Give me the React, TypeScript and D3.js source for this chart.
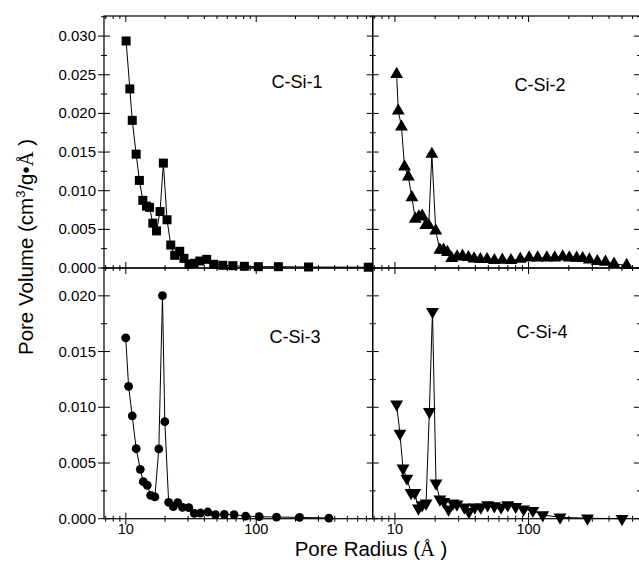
import React from "react";
import * as d3 from "d3";

// C-Si-1 (squares)
const si1Radius = [10.05, 10.73, 11.2, 12.0, 12.7, 13.5, 14.4, 15.2, 16.1, 17.2, 18.3, 19.4, 20.7, 22.1, 23.7, 25.9, 27.9, 30.5, 33.3, 36.9, 41.7, 47.2, 55.4, 66.2, 81.1, 103.8, 147.9, 252, 723];
const si1Volume = [0.02937, 0.02317, 0.0191, 0.01473, 0.01133, 0.00875, 0.008, 0.00784, 0.0058, 0.0048, 0.0073, 0.01357, 0.00624, 0.00297, 0.00164, 0.00216, 0.00125, 0.00048, 0.0006, 0.0009, 0.00112, 0.00048, 0.00035, 0.0003, 0.00022, 0.00017, 0.00017, 0.00013, 0.0001];

// C-Si-2 (triangles up)
const si2Radius = [10.3, 10.6, 11.2, 11.8, 12.6, 13.4, 14.2, 15.1, 16.0, 17.0, 17.9, 18.9, 20.2, 21.7, 23.1, 24.7, 26.6, 29.2, 32.0, 35.5, 39.1, 43.6, 48.9, 55.5, 63.6, 73.8, 86.7, 101, 117, 137, 157, 180, 202, 229, 254, 285, 327, 376, 436, 542];
const si2Volume = [0.02507, 0.02033, 0.01826, 0.01309, 0.0118, 0.00913, 0.00633, 0.00663, 0.00672, 0.00552, 0.00552, 0.01473, 0.00482, 0.00233, 0.00233, 0.00203, 0.00125, 0.00146, 0.00155, 0.00138, 0.0012, 0.00112, 0.00112, 0.00099, 0.00103, 0.00099, 0.00116, 0.00133, 0.00133, 0.00133, 0.00133, 0.00146, 0.00133, 0.00129, 0.00125, 0.00107, 0.00086, 0.00078, 0.00052, 0.00035];

// C-Si-3 (circles)
const si3Radius = [9.98, 10.5, 11.2, 12.0, 12.9, 13.6, 14.6, 15.5, 16.7, 17.9, 19.1, 19.9, 21.3, 23.1, 25.0, 27.2, 30.4, 33.5, 37.3, 42.5, 48.6, 56.9, 67.6, 83.0, 105.4, 143, 215, 361];
const si3Volume = [0.01622, 0.01188, 0.00922, 0.00628, 0.00443, 0.00332, 0.003, 0.0021, 0.00195, 0.00626, 0.02002, 0.00871, 0.00147, 0.00108, 0.00144, 0.00102, 0.00099, 0.00048, 0.00051, 0.0006, 0.00036, 0.00039, 0.00036, 0.00024, 0.00018, 0.00015, 0.00012, 0.00006];

// C-Si-4 (triangles down)
const si4Radius = [10.3, 10.9, 11.5, 12.3, 13.2, 14.1, 15.0, 16.0, 17.1, 18.1, 19.1, 20.3, 21.7, 23.2, 25.2, 27.2, 29.1, 33.1, 35.8, 39.6, 43.9, 49.4, 55.5, 62.3, 69.9, 80.1, 91.8, 107.7, 127.7, 172, 276, 500];
const si4Volume = [0.01027, 0.00766, 0.00452, 0.00362, 0.00233, 0.00233, 0.00093, 0.00123, 0.00138, 0.0096, 0.01858, 0.00318, 0.00174, 0.00153, 0.00084, 0.00138, 0.00129, 0.00102, 0.00063, 0.00102, 0.00102, 0.00123, 0.00114, 0.00102, 0.00123, 0.00108, 0.00084, 0.00072, 0.00033, 0.00013, 0.00004, 0.0];

const xMajor = [10, 100];
const xMinor = [7, 8, 9, 20, 30, 40, 50, 60, 70, 80, 90, 200, 300, 400, 500, 600, 700];
const yTopTicks = [0, 0.005, 0.01, 0.015, 0.02, 0.025, 0.03];
const yBottomTicks = [0, 0.005, 0.01, 0.015, 0.02];

const font = "Arial, 'Liberation Sans', Helvetica, sans-serif";
const serif = "'Liberation Serif', 'Times New Roman', serif";

type Panel = {
  name: string;
  radius: number[];
  volume: number[];
  marker: string;
  x: d3.ScaleLogarithmic<number, number>;
  y: d3.ScaleLinear<number, number>;
  left: boolean;
  bottom: boolean;
  label: [number, number];
};

function Marker({ kind, cx, cy }: { kind: string; cx: number; cy: number }) {
  if (kind === "square") return <rect x={cx - 4.5} y={cy - 4.5} width={9} height={9} fill="#000" />;
  if (kind === "circle") return <circle cx={cx} cy={cy} r={4.4} fill="#000" />;
  const tri = d3.symbol(d3.symbolTriangle, 72)()!;
  if (kind === "up") return <path d={tri} transform={`translate(${cx},${cy})`} fill="#000" />;
  return <path d={tri} transform={`translate(${cx},${cy}) rotate(180)`} fill="#000" />;
}

function PanelView({ p }: { p: Panel }) {
  const [x0, x1] = p.x.range();
  const [y0, y1] = p.y.range(); // y0 bottom, y1 top
  const yDom = p.y.domain();
  const yMajor = d3.range(0, yDom[1] + 1e-9, 0.005);
  const yMinor = d3.range(0.0025, yDom[1] + 1e-9, 0.005);
  const line = d3
    .line<number>()
    .x((_, i) => p.x(p.radius[i]))
    .y((v) => p.y(v));
  const xt = (v: number, len: number) => (
    <g key={"x" + v + len}>
      <line x1={p.x(v)} x2={p.x(v)} y1={y0} y2={y0 - len} stroke="#000" />
      <line x1={p.x(v)} x2={p.x(v)} y1={y1} y2={y1 + len} stroke="#000" />
      {p.bottom && <line x1={p.x(v)} x2={p.x(v)} y1={y0} y2={y0 + len} stroke="#000" />}
    </g>
  );
  const yt = (v: number, len: number) => (
    <g key={"y" + v + len}>
      <line x1={x0} x2={x0 + len} y1={p.y(v)} y2={p.y(v)} stroke="#000" />
      <line x1={x1} x2={x1 - len} y1={p.y(v)} y2={p.y(v)} stroke="#000" />
      {p.left && <line x1={x0} x2={x0 - len} y1={p.y(v)} y2={p.y(v)} stroke="#000" />}
    </g>
  );
  return (
    <g>
      <rect x={x0} y={y1} width={x1 - x0} height={y0 - y1} fill="none" stroke="#000" strokeWidth={1.2} />
      {xMajor.filter((v) => p.x(v) <= x1).map((v) => xt(v, 6))}
      {xMinor.filter((v) => p.x(v) >= x0 && p.x(v) <= x1).map((v) => xt(v, 3))}
      {yMajor.map((v) => yt(v, 6))}
      {yMinor.map((v) => yt(v, 3))}
      {p.left &&
        (p.bottom ? yBottomTicks : yTopTicks).map((v) => (
          <text key={"yl" + v} x={x0 - 8} y={p.y(v) + 5} textAnchor="end" fontSize={15} fontFamily={font}>
            {d3.format(".3f")(v)}
          </text>
        ))}
      {p.bottom &&
        xMajor.map((v) => (
          <text key={"xl" + v} x={p.x(v)} y={534} textAnchor="middle" fontSize={14.5} fontFamily={font}>
            {v}
          </text>
        ))}
      <path d={line(p.volume)!} fill="none" stroke="#000" strokeWidth={1} />
      {p.volume.map((v, i) => (
        <Marker key={i} kind={p.marker} cx={p.x(p.radius[i])} cy={p.y(v)} />
      ))}
      <text x={p.label[0]} y={p.label[1]} textAnchor="middle" fontSize={18} fontFamily={font}>
        {p.name}
      </text>
    </g>
  );
}

export default function App() {
  const xLeft = d3.scaleLog().domain([6.8, 782]).range([104, 372.7]);
  const xRight = d3.scaleLog().domain([6.82, 682]).range([372.7, 640]);
  const yTop = d3.scaleLinear().domain([0, 0.0326]).range([268, 16]);
  const yBottom = d3.scaleLinear().domain([0, 0.0225]).range([518.7, 268]);

  const panels: Panel[] = [
    { name: "C-Si-1", radius: si1Radius, volume: si1Volume, marker: "square", x: xLeft, y: yTop, left: true, bottom: false, label: [297, 88] },
    { name: "C-Si-2", radius: si2Radius, volume: si2Volume, marker: "up", x: xRight, y: yTop, left: false, bottom: false, label: [540, 91] },
    { name: "C-Si-3", radius: si3Radius, volume: si3Volume, marker: "circle", x: xLeft, y: yBottom, left: true, bottom: true, label: [295, 343] },
    { name: "C-Si-4", radius: si4Radius, volume: si4Volume, marker: "down", x: xRight, y: yBottom, left: false, bottom: true, label: [542, 338] },
  ];

  return (
    <svg width={639} height={562} style={{ position: "absolute", left: 0, top: 0, background: "#fff" }}>
      <rect width={639} height={562} fill="#fff" />
      {panels.map((p) => (
        <PanelView key={p.name} p={p} />
      ))}
      <text transform="translate(33,247) rotate(-90)" textAnchor="middle" fontSize={20.5} fontFamily={font}>
        Pore Volume (cm<tspan dy={-8} fontSize={13}>3</tspan>
        <tspan dy={8}>/g•</tspan>
        <tspan fontFamily={serif}>Å</tspan> )
      </text>
      <text x={371} y={556} textAnchor="middle" fontSize={20.5} fontFamily={font}>
        Pore Radius (<tspan fontFamily={serif}>Å</tspan> )
      </text>
    </svg>
  );
}
